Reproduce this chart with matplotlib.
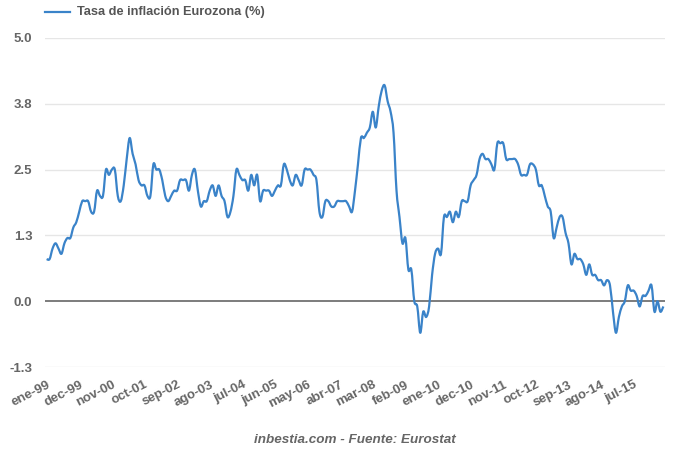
from matplotlib import pyplot as plt
from matplotlib.path import Path
from matplotlib.patches import PathPatch
import numpy as np

# Euro area HICP inflation, monthly, ene-1999 .. may-2016 (%)
inflation = [
    0.8, 0.8, 1.0, 1.1, 1.0, 0.9, 1.1, 1.2, 1.2, 1.4, 1.5, 1.7,   # 1999
    1.9, 1.9, 1.9, 1.7, 1.7, 2.1, 2.0, 2.0, 2.5, 2.4, 2.5, 2.5,   # 2000
    2.0, 1.9, 2.2, 2.7, 3.1, 2.8, 2.6, 2.3, 2.2, 2.2, 2.0, 2.0,   # 2001
    2.6, 2.5, 2.5, 2.3, 2.0, 1.9, 2.0, 2.1, 2.1, 2.3, 2.3, 2.3,   # 2002
    2.1, 2.4, 2.5, 2.1, 1.8, 1.9, 1.9, 2.1, 2.2, 2.0, 2.2, 2.0,   # 2003
    1.9, 1.6, 1.7, 2.0, 2.5, 2.4, 2.3, 2.3, 2.1, 2.4, 2.2, 2.4,   # 2004
    1.9, 2.1, 2.1, 2.1, 2.0, 2.1, 2.2, 2.2, 2.6, 2.5, 2.3, 2.2,   # 2005
    2.4, 2.3, 2.2, 2.5, 2.5, 2.5, 2.4, 2.3, 1.7, 1.6, 1.9, 1.9,   # 2006
    1.8, 1.8, 1.9, 1.9, 1.9, 1.9, 1.8, 1.7, 2.1, 2.6, 3.1, 3.1,   # 2007
    3.2, 3.3, 3.6, 3.3, 3.7, 4.0, 4.1, 3.8, 3.6, 3.2, 2.1, 1.6,   # 2008
    1.1, 1.2, 0.6, 0.6, 0.0, -0.1, -0.6, -0.2, -0.3, -0.1, 0.5, 0.9,  # 2009
    1.0, 0.9, 1.6, 1.6, 1.7, 1.5, 1.7, 1.6, 1.9, 1.9, 1.9, 2.2,   # 2010
    2.3, 2.4, 2.7, 2.8, 2.7, 2.7, 2.6, 2.5, 3.0, 3.0, 3.0, 2.7,   # 2011
    2.7, 2.7, 2.7, 2.6, 2.4, 2.4, 2.4, 2.6, 2.6, 2.5, 2.2, 2.2,   # 2012
    2.0, 1.8, 1.7, 1.2, 1.4, 1.6, 1.6, 1.3, 1.1, 0.7, 0.9, 0.8,   # 2013
    0.8, 0.7, 0.5, 0.7, 0.5, 0.5, 0.4, 0.4, 0.3, 0.4, 0.3, -0.2,  # 2014
    -0.6, -0.3, -0.1, 0.0, 0.3, 0.2, 0.2, 0.1, -0.1, 0.1, 0.1, 0.2,  # 2015
    0.3, -0.2, 0.0, -0.2, -0.1,                                   # 2016
]

# Category labels shown on the x axis (every 11 months)
tick_labels = ["ene-99", "dec-99", "nov-00", "oct-01", "sep-02", "ago-03",
               "jul-04", "jun-05", "may-06", "abr-07", "mar-08", "feb-09",
               "ene-10", "dec-10", "nov-11", "oct-12", "sep-13", "ago-14",
               "jul-15"]
y_ticks = [-1.25, 0.0, 1.25, 2.5, 3.75, 5.0]
y_tick_labels = ["-1.3", "0.0", "1.3", "2.5", "3.8", "5.0"]

LINE_COLOR = "#3a83c9"

plt.rcParams["font.family"] = ["Liberation Sans", "DejaVu Sans"]

fig = plt.figure(figsize=(6.8, 4.58), dpi=100)
ax = fig.add_axes([45 / 680, 1 - 367 / 458, 620 / 680, 329 / 458])

# Smooth spline through the points (Catmull-Rom -> cubic Bezier)
x = np.arange(len(inflation), dtype=float)
y = np.array(inflation, dtype=float)
pts = np.column_stack([x, y])
ext = np.vstack([pts[0], pts, pts[-1]])
verts = [pts[0]]
codes = [Path.MOVETO]
for i in range(len(pts) - 1):
    p0, p1, p2, p3 = ext[i], ext[i + 1], ext[i + 2], ext[i + 3]
    c1 = p1 + (p2 - p0) / 6.0
    c2 = p2 - (p3 - p1) / 6.0
    verts += [c1, c2, p2]
    codes += [Path.CURVE4] * 3
ax.add_patch(PathPatch(Path(verts, codes), facecolor="none",
                       edgecolor=LINE_COLOR, lw=1.6, joinstyle="round",
                       zorder=3))

# Grid and zero line
for yv in y_ticks:
    if yv == 0:
        ax.axhline(yv, color="#666666", lw=1.2, zorder=2)
    else:
        ax.axhline(yv, color="#e6e6e6", lw=1.0, zorder=1)

ax.set_xlim(-0.55, len(inflation) - 0.45)
ax.set_ylim(-1.25, 5.0)
ax.set_yticks(y_ticks)
ax.set_yticklabels(y_tick_labels)
ax.set_xticks(np.arange(len(tick_labels)) * 11)
ax.set_xticklabels(tick_labels, rotation=27, ha="right", va="top",
                   rotation_mode="anchor")

ax.tick_params(axis="both", length=0, labelcolor="#666666", labelsize=9.5)
ax.tick_params(axis="y", pad=9)
ax.tick_params(axis="x", pad=8.5)
for lab in ax.get_xticklabels() + ax.get_yticklabels():
    lab.set_fontweight("bold")
for s in ax.spines.values():
    s.set_visible(False)

# Legend at top left
fig.add_artist(plt.Line2D([45 / 680, 70 / 680], [1 - 12 / 458, 1 - 12 / 458],
                          color=LINE_COLOR, lw=1.6))
fig.text(77 / 680, 1 - 12 / 458, "Tasa de inflación Eurozona (%)",
         fontsize=9.2, fontweight="bold", color="#555555", va="center")

# Source
fig.text(355 / 680, 1 - 440 / 458, "inbestia.com - Fuente: Eurostat",
         fontsize=9.7, fontweight="bold", style="italic", color="#666666",
         ha="center", va="center")

fig.savefig("out.png", dpi=100)
